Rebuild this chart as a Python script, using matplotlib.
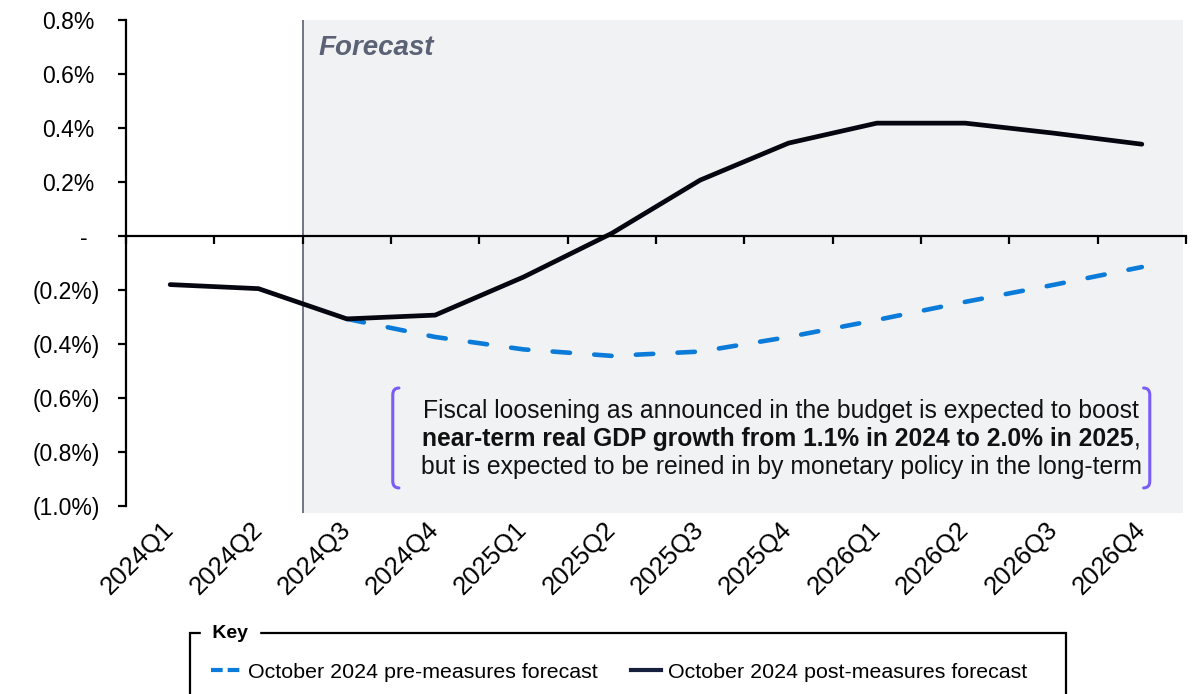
import matplotlib
matplotlib.use("Agg")
import matplotlib.pyplot as plt
import numpy as np
from matplotlib.patches import Rectangle, PathPatch
from matplotlib.path import Path
from matplotlib.lines import Line2D
import matplotlib.transforms as mtransforms

plt.rcParams['font.family'] = ['Liberation Sans', 'DejaVu Sans']

# ---------------- data ----------------
quarters = ["2024Q1", "2024Q2", "2024Q3", "2024Q4", "2025Q1", "2025Q2",
            "2025Q3", "2025Q4", "2026Q1", "2026Q2", "2026Q3", "2026Q4"]
post_measures = [-0.18, -0.195, -0.307, -0.293, -0.152, 0.01,
                 0.207, 0.344, 0.418, 0.418, 0.381, 0.34]
pre_quarters = quarters[2:]
pre_measures = [-0.307, -0.374, -0.42, -0.444, -0.428, -0.374,
                -0.311, -0.244, -0.181, -0.115]
ytick_values = [0.8, 0.6, 0.4, 0.2, 0.0, -0.2, -0.4, -0.6, -0.8, -1.0]
ytick_labels = ["0.8%", "0.6%", "0.4%", "0.2%", "-", "(0.2%)", "(0.4%)",
                "(0.6%)", "(0.8%)", "(1.0%)"]
pre_label = "October 2024 pre-measures forecast"
post_label = "October 2024 post-measures forecast"

# ---------------- style ----------------
W, H = 1194, 694
fig = plt.figure(figsize=(W / 100, H / 100), dpi=100)
ax = fig.add_axes([126 / W, 1 - 506 / H, (1186 - 126) / W, (506 - 20) / H])

BLUE = "#0b7bd9"
DARK = "#05060f"
NAVY = "#16203d"
SHADE = "#f1f2f4"
VLINE = "#5b5f73"
PURPLE = "#7a5cf7"

xidx = {q: i for i, q in enumerate(quarters)}
x_post = [xidx[q] for q in quarters]
x_pre = [xidx[q] for q in pre_quarters]

ax.set_xlim(-0.5, len(quarters) - 0.5)
ax.set_ylim(-1.0, 0.8)

# forecast shading
fstart = 1.5
ax.add_patch(Rectangle((fstart, -1.025), len(quarters) - 0.53 - fstart, 1.825,
                       facecolor=SHADE, edgecolor="none", zorder=0, clip_on=False))
ax.plot([fstart, fstart], [0.8, -1.025], color=VLINE, lw=1.2, zorder=1,
        clip_on=False, solid_capstyle="butt")
ax.text(1.68, 0.697, "Forecast", fontsize=20, fontweight="bold", style="italic",
        color="#5c6275", ha="left", va="center")

ax.plot(x_pre, pre_measures, color=BLUE, lw=3.3, linestyle=(0, (3.8, 5.3)),
        dash_capstyle="round", zorder=3)
ax.plot(x_post, post_measures, color=DARK, lw=3.4, solid_capstyle="round",
        solid_joinstyle="round", zorder=4)

# axes styling
for s in ["top", "right"]:
    ax.spines[s].set_visible(False)
ax.spines["bottom"].set_position(("data", 0))
ax.spines["bottom"].set_linewidth(1.6)
ax.spines["left"].set_linewidth(1.6)
ax.spines["bottom"].set_zorder(5)
ax.set_xticks(np.arange(-0.5, len(quarters), 1.0))
ax.set_xticklabels([])
ax.tick_params(axis="x", direction="out", length=5.5, width=1.6, color="black")
ax.set_yticks(ytick_values)
ax.set_yticklabels(ytick_labels)
ax.tick_params(axis="y", direction="out", length=5.5, width=1.6, pad=13,
               labelsize=16.5)
# accounting-style alignment: positives leave room for ")", dash further left
for val, lab in zip(ytick_values, ax.get_yticklabels()):
    if val > 0:
        dx = -6
    elif val == 0:
        dx = -13
    else:
        dx = 0
    if dx:
        lab.set_transform(lab.get_transform() +
                          mtransforms.ScaledTranslation(dx / 100, 0, fig.dpi_scale_trans))

sec = ax.secondary_xaxis("bottom")
sec.set_xticks(range(len(quarters)))
sec.set_xticklabels(quarters, rotation=45, ha="right", va="center",
                    rotation_mode="anchor", fontsize=18.5)
sec.tick_params(length=0, pad=14)
sec.spines["bottom"].set_visible(False)

# annotation with brackets
def bracket(xc, y0, y1, side):
    d = 0.07 * side
    c = 0.025
    verts = [(xc + d, y1), (xc, y1), (xc, y1 - c), (xc, y0 + c), (xc, y0), (xc + d, y0)]
    codes = [Path.MOVETO, Path.CURVE3, Path.CURVE3, Path.LINETO, Path.CURVE3, Path.CURVE3]
    ax.add_patch(PathPatch(Path(verts, codes), facecolor="none", edgecolor=PURPLE,
                           lw=2.2, capstyle="round", zorder=5))

bracket(2.52, -0.933, -0.563, 1)
bracket(11.09, -0.933, -0.563, -1)

tx = 6.92
fs_ann = 17.85
ax.text(tx, -0.648, "Fiscal loosening as announced in the budget is expected to boost",
        fontsize=fs_ann, ha="center", va="center", color="#111111")
off = mtransforms.offset_copy(ax.transData, fig=fig, x=-2.5, y=0, units="points")
bold_t = ax.text(tx, -0.752, "near-term real GDP growth from 1.1% in 2024 to 2.0% in 2025",
                 fontsize=fs_ann - 0.1, fontweight="bold", ha="center", va="center",
                 color="#111111", transform=off)
ax.annotate(",", xy=(1, 0), xycoords=bold_t, xytext=(0, 0), textcoords="offset points",
            fontsize=fs_ann, ha="left", va="bottom", color="#111111")
ax.text(tx, -0.856, "but is expected to be reined in by monetary policy in the long-term",
        fontsize=fs_ann, ha="center", va="center", color="#111111")

# key box
fig.patches.append(Rectangle((190 / W, -0.1), (1066 - 190) / W, 0.1 + 1 - 633 / H,
                             transform=fig.transFigure, facecolor="none",
                             edgecolor="black", lw=1.6, figure=fig))
fig.text(207 / W, 1 - 633 / H, " Key ", fontsize=14, fontweight="bold",
         ha="left", va="center", backgroundcolor="white")
h1 = Line2D([], [], color=BLUE, lw=3.0, linestyle=(0, (2.8, 1.2)))
h2 = Line2D([], [], color=NAVY, lw=3.0)
fig.legend([h1, h2], [pre_label, post_label], ncol=2, frameon=False,
           loc="center left", bbox_to_anchor=(211 / W, 1 - 672 / H),
           fontsize=15.4, handlelength=1.4, handletextpad=0.33, columnspacing=1.55,
           borderpad=0, borderaxespad=0)

fig.savefig("out.png", dpi=100)
